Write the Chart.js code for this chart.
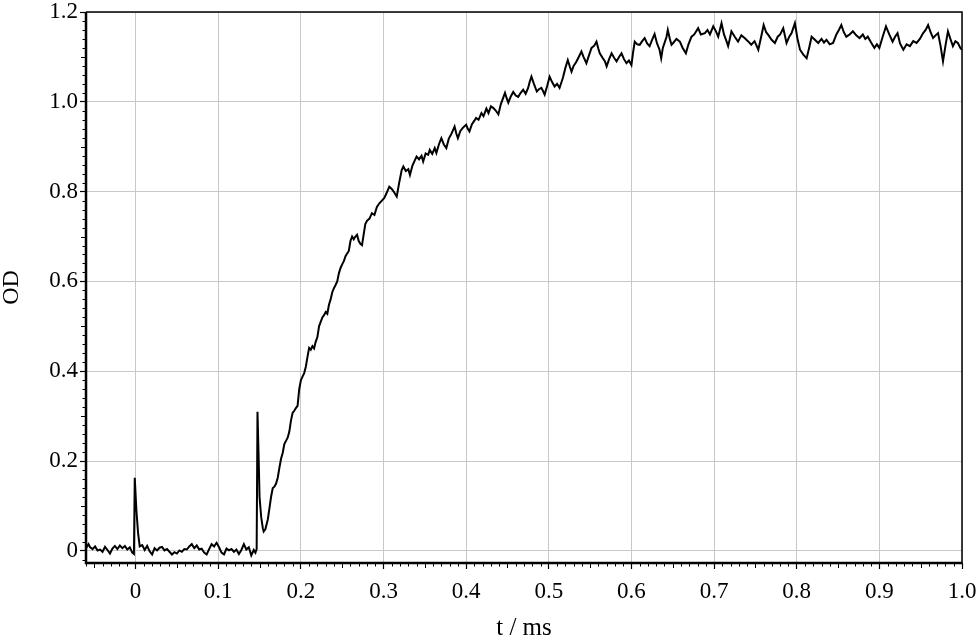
<!DOCTYPE html>
<html>
<head>
<meta charset="utf-8">
<script src="https://cdn.jsdelivr.net/npm/chart.js@4/dist/chart.umd.min.js"></script>
<style>
  html, body { margin: 0; padding: 0; background: #fff; }
  #wrap { width: 980px; height: 641px; position: relative; }
</style>
</head>
<body>
<div id="wrap"><canvas id="c"></canvas></div>
<script>
// ---- data: [time (ms), OD] ----
const baseline = [
  [-0.060,0.006],[-0.057,0.015],[-0.055,0.008],[-0.052,0.004],[-0.049,0.010],[-0.046,0.001],
  [-0.043,0.003],[-0.040,-0.002],[-0.037,0.009],[-0.034,0.002],[-0.031,-0.006],[-0.028,0.005],
  [-0.025,0.011],[-0.022,0.004],[-0.019,0.012],[-0.016,0.006],[-0.013,0.011],[-0.010,0.003],
  [-0.007,0.008],[-0.004,-0.004],[-0.002,-0.007],[-0.001,0.163],[0.001,0.090],[0.003,0.040],
  [0.005,0.010],[0.008,0.013],[0.011,0.002],[0.014,0.011],[0.017,-0.001],[0.020,-0.008],
  [0.023,0.006],[0.026,0.001],[0.029,0.007],[0.032,0.009],[0.035,0.001],[0.038,0.004],
  [0.041,-0.002],[0.044,-0.008],[0.047,-0.003],[0.050,-0.006],[0.053,0.001],[0.056,-0.002],
  [0.059,0.004],[0.062,0.003],[0.065,0.010],[0.068,0.015],[0.071,0.006],[0.074,0.012],
  [0.077,0.003],[0.080,0.005],[0.083,-0.004],[0.086,-0.008],[0.089,0.004],[0.092,0.015],
  [0.095,0.010],[0.098,0.018],[0.101,0.008],[0.104,-0.004],[0.107,-0.008],[0.110,0.005],
  [0.113,0.001],[0.116,0.004],[0.119,-0.002],[0.122,0.003],[0.125,-0.007],[0.128,0.002],
  [0.131,0.015],[0.134,0.003],[0.137,0.008],[0.140,-0.010],[0.143,0.002],[0.145,-0.004],
  [0.1465,0.004]
];
const rise = [
  [0.1475,0.310],[0.149,0.200],[0.150,0.120],[0.152,0.075],[0.154,0.050],[0.155,0.043],
  [0.157,0.048],[0.160,0.070],[0.162,0.095],[0.164,0.121],[0.166,0.140],[0.168,0.143],
  [0.170,0.150],[0.172,0.163],[0.174,0.185],[0.176,0.205],[0.178,0.218],[0.180,0.238],
  [0.182,0.245],[0.184,0.252],[0.186,0.265],[0.188,0.290],[0.190,0.307],[0.192,0.312],
  [0.194,0.318],[0.196,0.323],[0.198,0.360],[0.200,0.380],[0.202,0.388],[0.204,0.396],
  [0.206,0.410],[0.208,0.432],[0.210,0.452],[0.212,0.448],[0.214,0.456],[0.216,0.451],
  [0.218,0.466],[0.220,0.476],[0.222,0.500],[0.224,0.510],[0.226,0.520],[0.228,0.525],
  [0.230,0.532],[0.232,0.528],[0.234,0.548],[0.236,0.560],[0.238,0.576],[0.240,0.585],
  [0.242,0.592],[0.244,0.600],[0.246,0.618],[0.248,0.630],[0.250,0.638],[0.252,0.645],
  [0.254,0.656],[0.256,0.662],[0.258,0.668],[0.260,0.690],[0.262,0.700],[0.264,0.694],
  [0.266,0.700],[0.268,0.704],[0.270,0.690],[0.272,0.684],[0.274,0.681],[0.276,0.705],
  [0.278,0.728],[0.280,0.735],[0.283,0.740],[0.286,0.752],[0.289,0.748],[0.292,0.766],
  [0.295,0.774],[0.298,0.780],[0.301,0.786],[0.304,0.798],[0.307,0.811],[0.310,0.806],
  [0.313,0.798],[0.316,0.789],[0.319,0.820],[0.322,0.848],[0.324,0.856],[0.327,0.846],
  [0.330,0.850],[0.332,0.837],[0.335,0.858],[0.338,0.870],[0.340,0.878],[0.343,0.872],
  [0.346,0.880],[0.348,0.867],[0.351,0.885],[0.354,0.882],[0.356,0.893],[0.359,0.884],
  [0.362,0.897],[0.364,0.886],[0.367,0.905],[0.370,0.919],[0.373,0.905],[0.376,0.897],
  [0.379,0.918],[0.382,0.928],[0.386,0.945],[0.388,0.930],[0.390,0.919],[0.393,0.935],
  [0.396,0.942],[0.400,0.949],[0.402,0.940],[0.404,0.934],[0.407,0.950],[0.410,0.958],
  [0.412,0.964],[0.415,0.960],[0.4185,0.975],[0.421,0.968],[0.4245,0.985],[0.427,0.975],
  [0.430,0.990],[0.433,0.986],[0.436,0.980],[0.439,0.972],[0.442,0.995],[0.445,1.010],
  [0.447,1.020],[0.449,1.008],[0.451,0.998],[0.454,1.012],[0.457,1.022],[0.460,1.014],
  [0.463,1.011],[0.466,1.020],[0.469,1.027],[0.472,1.018],[0.475,1.031],[0.477,1.045],
  [0.479,1.056],[0.482,1.040],[0.4855,1.023],[0.488,1.028],[0.491,1.031],[0.493,1.024],
  [0.495,1.016],[0.498,1.035],[0.501,1.056],[0.504,1.044],[0.507,1.034],[0.510,1.040],
  [0.513,1.031],[0.515,1.042],[0.517,1.053],[0.520,1.075],[0.523,1.093],[0.5255,1.078],
  [0.5275,1.067],[0.530,1.080],[0.533,1.088],[0.5355,1.097],[0.5395,1.112],[0.542,1.100],
  [0.5455,1.086],[0.548,1.100],[0.5517,1.120],[0.555,1.125],[0.5577,1.134],[0.560,1.118],
  [0.5617,1.108],[0.565,1.098],[0.568,1.090],[0.570,1.079],[0.573,1.095],[0.576,1.108],
  [0.579,1.098],[0.582,1.090],[0.585,1.100],[0.588,1.108],[0.591,1.095],[0.594,1.086],
  [0.597,1.092],[0.600,1.082]
];
const plateau = [
  [0.602,1.110],[0.604,1.134],[0.607,1.128],[0.610,1.127],[0.613,1.135],[0.616,1.142],
  [0.619,1.130],[0.622,1.124],[0.625,1.138],[0.628,1.151],[0.631,1.130],[0.634,1.116],
  [0.636,1.097],[0.638,1.120],[0.6425,1.145],[0.644,1.160],[0.6465,1.140],[0.6485,1.127],
  [0.6505,1.131],[0.6545,1.140],[0.6586,1.134],[0.662,1.120],[0.6659,1.108],[0.669,1.128],
  [0.6727,1.145],[0.676,1.150],[0.6807,1.164],[0.684,1.150],[0.6889,1.153],[0.692,1.160],
  [0.695,1.150],[0.699,1.168],[0.702,1.158],[0.705,1.145],[0.709,1.175],[0.712,1.150],
  [0.715,1.135],[0.717,1.124],[0.719,1.140],[0.721,1.157],[0.725,1.145],[0.729,1.134],
  [0.733,1.148],[0.737,1.142],[0.741,1.135],[0.745,1.127],[0.749,1.135],[0.7535,1.116],
  [0.757,1.145],[0.760,1.171],[0.763,1.155],[0.766,1.148],[0.7696,1.138],[0.7736,1.131],
  [0.777,1.145],[0.780,1.150],[0.7837,1.164],[0.7877,1.131],[0.791,1.145],[0.7938,1.153],
  [0.7978,1.175],[0.801,1.140],[0.804,1.116],[0.808,1.105],[0.812,1.097],[0.815,1.120],
  [0.818,1.145],[0.822,1.138],[0.826,1.131],[0.830,1.140],[0.833,1.132],[0.836,1.138],
  [0.840,1.128],[0.844,1.131],[0.848,1.150],[0.851,1.160],[0.854,1.171],[0.857,1.155],
  [0.860,1.145],[0.864,1.150],[0.868,1.157],[0.872,1.148],[0.876,1.142],[0.880,1.150],
  [0.883,1.140],[0.886,1.145],[0.890,1.132],[0.894,1.120],[0.897,1.128],[0.900,1.120],
  [0.904,1.145],[0.908,1.168],[0.912,1.150],[0.916,1.134],[0.919,1.145],[0.922,1.153],
  [0.925,1.130],[0.929,1.116],[0.933,1.128],[0.937,1.124],[0.941,1.135],[0.945,1.131],
  [0.949,1.140],[0.953,1.153],[0.956,1.160],[0.959,1.171],[0.962,1.155],[0.965,1.142],
  [0.968,1.148],[0.971,1.153],[0.974,1.125],[0.977,1.090],[0.980,1.125],[0.983,1.157],
  [0.986,1.140],[0.989,1.124],[0.992,1.135],[0.995,1.131],[0.998,1.120],[1.000,1.116]
];
const xTickValues = [0, 0.1, 0.2, 0.3, 0.4, 0.5, 0.6, 0.7, 0.8, 0.9, 1.0];
const yTickValues = [0, 0.2, 0.4, 0.6, 0.8, 1.0, 1.2];
const xTitle = 't / ms';
const yTitle = 'OD';

const points = baseline.concat(rise, plateau).map(p => ({ x: p[0], y: p[1] }));

const FONT = "'Liberation Serif', 'DejaVu Serif', serif";

const axisDecor = {
  id: 'axisDecor',
  afterDraw(chart) {
    const { ctx, chartArea: a, scales: { x, y } } = chart;
    ctx.save();
    ctx.strokeStyle = '#000';
    ctx.lineWidth = 1;
    ctx.beginPath();
    for (let i = Math.ceil(x.min * 100); i <= Math.floor(x.max * 100 + 1e-6); i++) {
      if (i % 10 === 0) continue;
      const px = Math.round(x.getPixelForValue(i / 100)) + 0.5;
      const len = (i % 5 === 0) ? 5 : 3.5;
      ctx.moveTo(px, a.bottom); ctx.lineTo(px, a.bottom + len);
    }
    for (let i = Math.ceil(y.min * 50); i <= Math.floor(y.max * 50 + 1e-6); i++) {
      if (i % 10 === 0) continue;
      const py = Math.round(y.getPixelForValue(i / 50)) + 0.5;
      const len = (i % 5 === 0) ? 5 : 3.5;
      ctx.moveTo(a.left, py); ctx.lineTo(a.left - len, py);
    }
    ctx.stroke();
    ctx.lineWidth = 1.5;
    ctx.beginPath();
    ctx.moveTo(a.left, a.top); ctx.lineTo(a.right, a.top); ctx.lineTo(a.right, a.bottom);
    ctx.stroke();
    ctx.lineWidth = 2.5;
    ctx.beginPath();
    ctx.moveTo(a.left, a.top); ctx.lineTo(a.left, a.bottom); ctx.lineTo(a.right, a.bottom);
    ctx.stroke();
    ctx.restore();
  }
};

new Chart(document.getElementById('c'), {
  type: 'line',
  data: {
    datasets: [{
      data: points,
      borderColor: '#000',
      borderWidth: 2,
      pointRadius: 0,
      tension: 0,
      fill: false
    }]
  },
  options: {
    responsive: true,
    maintainAspectRatio: false,
    animation: false,
    layout: { padding: { top: 12, right: 18, left: 0, bottom: 0 } },
    plugins: { legend: { display: false }, tooltip: { enabled: false } },
    scales: {
      x: {
        type: 'linear',
        min: -0.06,
        max: 1.0,
        afterBuildTicks: s => { s.ticks = xTickValues.map(v => ({ value: v })); },
        afterFit: s => { s.height = 78; s.paddingLeft = 0; s.paddingRight = 0; },
        border: { display: false },
        grid: { color: '#c8c8c8', lineWidth: 1, tickColor: '#000', tickLength: 6, tickWidth: 1.2 },
        ticks: {
          color: '#000',
          font: { family: FONT, size: 23 },
          padding: 9,
          maxRotation: 0,
          callback: v => v === 0 ? '0' : Number(v).toFixed(1)
        },
        title: { display: true, text: xTitle, color: '#000', font: { family: FONT, size: 25, lineHeight: 1.0 }, padding: { top: 2, bottom: 0 } }
      },
      y: {
        type: 'linear',
        min: -0.027,
        max: 1.2,
        afterBuildTicks: s => { s.ticks = yTickValues.map(v => ({ value: v })); },
        afterFit: s => { s.width = 86; s.paddingTop = 0; s.paddingBottom = 0; },
        border: { display: false },
        grid: { color: '#c8c8c8', lineWidth: 1, tickColor: '#000', tickLength: 6, tickWidth: 1.2 },
        ticks: {
          color: '#000',
          font: { family: FONT, size: 23 },
          padding: 2,
          callback: v => v === 0 ? '0' : Number(v).toFixed(1)
        },
        title: { display: true, text: yTitle, color: '#000', font: { family: FONT, size: 24, lineHeight: 1.0 }, padding: { top: 0, bottom: 0 } }
      }
    }
  },
  plugins: [axisDecor]
});
</script>
</body>
</html>
